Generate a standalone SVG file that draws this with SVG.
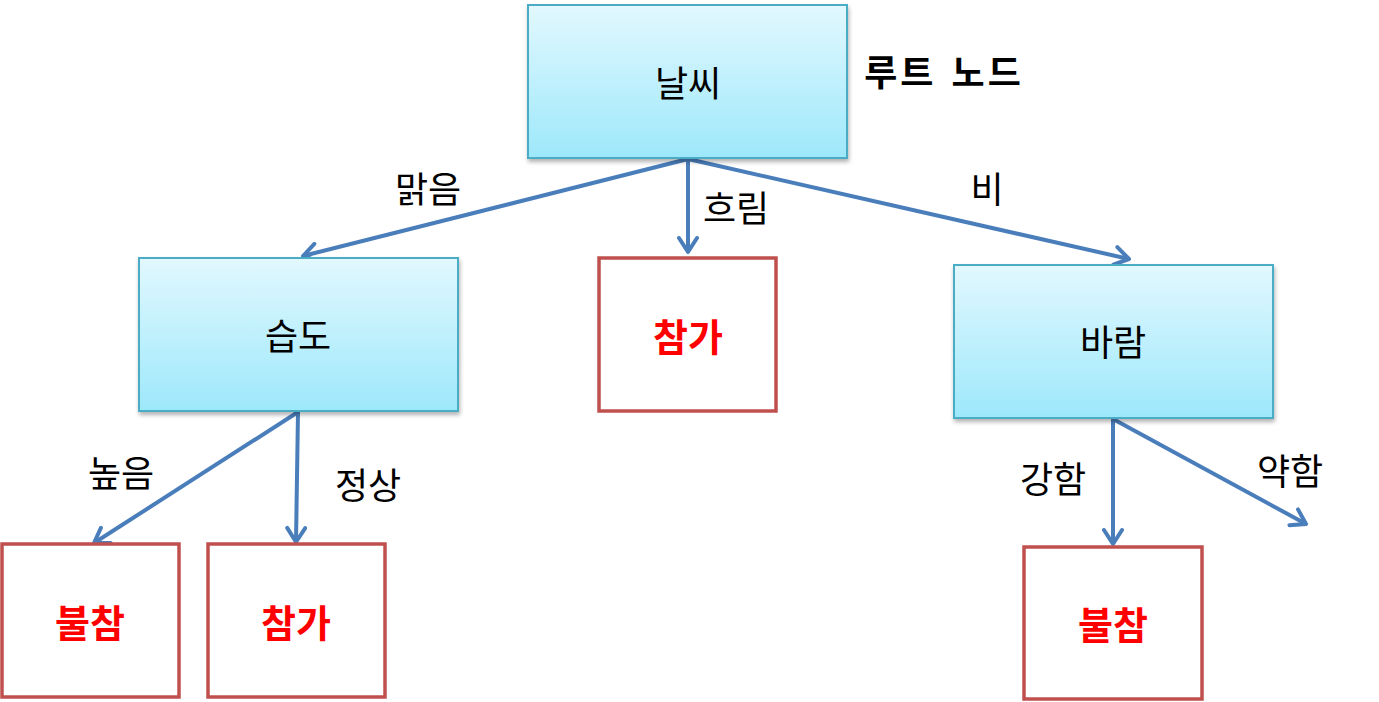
<svg xmlns="http://www.w3.org/2000/svg" width="1379" height="702" viewBox="0 0 1379 702">
<defs>
<linearGradient id="g" x1="0" y1="0" x2="0" y2="1">
<stop offset="0" stop-color="#e2f8fe"/>
<stop offset="1" stop-color="#9de8fb"/>
</linearGradient>
<filter id="sh" x="-10%" y="-10%" width="125%" height="130%">
<feDropShadow dx="1" dy="3" stdDeviation="2" flood-color="#000" flood-opacity="0.3"/>
</filter>
<marker id="ah" viewBox="0 0 20 22" refX="17" refY="11" markerWidth="20" markerHeight="22" markerUnits="userSpaceOnUse" orient="auto">
<path d="M3,2 L17,11 L3,20" fill="none" stroke="#4a7ebb" stroke-width="4" stroke-linecap="round" stroke-linejoin="round"/>
</marker>
<style>
.blue{fill:url(#g);stroke:#4bacc6;stroke-width:2;filter:url(#sh)}
.red{fill:#fff;stroke:#c0504d;stroke-width:3.5}
.t{font-family:"Noto Sans CJK KR","Noto Sans CJK SC",sans-serif;font-size:36px;fill:#000;text-anchor:middle;dominant-baseline:central}
.rt{font-family:"Noto Sans CJK KR","Noto Sans CJK SC",sans-serif;font-size:38px;font-weight:bold;fill:#ff0000;text-anchor:middle;dominant-baseline:central}
.c{fill:none;stroke:#4a7ebb;stroke-width:4;marker-end:url(#ah)}
</style>
</defs>
<g id="connectors">
<line class="c" x1="688" y1="159" x2="303" y2="256"/>
<line class="c" x1="688" y1="159" x2="688" y2="252"/>
<line class="c" x1="688" y1="159" x2="1129" y2="259"/>
<line class="c" x1="298" y1="412" x2="94" y2="543"/>
<line class="c" x1="298" y1="412" x2="296" y2="542"/>
<line class="c" x1="1113" y1="419" x2="1113" y2="544"/>
<line class="c" x1="1113" y1="419" x2="1306" y2="524"/>
</g>
<g id="edge-labels">
<text class="t" x="428" y="187">맑음</text>
<text class="t" x="736" y="206">흐림</text>
<text class="t" x="987" y="187">비</text>
<text class="t" x="121" y="471">높음</text>
<text class="t" x="368" y="483">정상</text>
<text class="t" x="1053" y="477">강함</text>
<text class="t" x="1290" y="469">약함</text>
</g>
<g id="root">
<rect class="blue" x="528" y="5" width="319" height="153"/>
<text class="t" x="688" y="81">날씨</text>
</g>
<g id="root-label">
<text x="944" y="70" font-family="'Noto Sans CJK KR','Noto Sans CJK SC',sans-serif" font-size="36" font-weight="bold" fill="#000" text-anchor="middle" dominant-baseline="central" letter-spacing="3" word-spacing="4">루트 노드</text>
</g>
<g id="humidity">
<rect class="blue" x="139" y="258" width="319" height="153"/>
<text class="t" x="298" y="334">습도</text>
</g>
<g id="cloudy-yes">
<rect class="red" x="599" y="258" width="177" height="153"/>
<text class="rt" x="688" y="334">참가</text>
</g>
<g id="wind">
<rect class="blue" x="954" y="265" width="319" height="153"/>
<text class="t" x="1113" y="340">바람</text>
</g>
<g id="high-no">
<rect class="red" x="2" y="544" width="177" height="153"/>
<text class="rt" x="90" y="620">불참</text>
</g>
<g id="normal-yes">
<rect class="red" x="208" y="544" width="177" height="153"/>
<text class="rt" x="296" y="620">참가</text>
</g>
<g id="strong-no">
<rect class="red" x="1024" y="547" width="178" height="152"/>
<text class="rt" x="1113" y="622">불참</text>
</g>
</svg>
